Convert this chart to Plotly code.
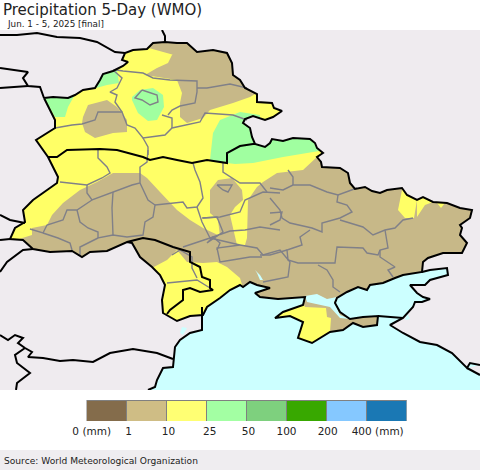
import plotly.graph_objects as go

# all map outlines are in map units (x right, y down)
NORTH_BORDER = [(44,98),(53,97),(68,98),(75,95),(83,90),(95,88),(100,80),(103,74),(113,71),(123,66),(128,62),
                (122,60),(125,53),(133,50),(147,49),(153,43),(165,42),(177,43),(187,43),(197,52),(213,50),
                (227,53),(232,63),(233,75),(240,80),(245,88),(257,94),(257,102),(272,103),(274,108),(282,111),
                (273,117),(265,120),(253,116),(245,119),(243,123),(250,128),(252,137),(255,144),(265,147),
                (270,143),(272,139),(283,141),(293,138),(310,139),(315,143),(317,148),(323,153),(317,157),
                (321,162),(322,167),(340,168),(348,173),(350,183),(355,189),(365,187),(372,191),(380,193),
                (387,190),(402,188),(407,195),(417,200),(423,197),(433,202),(447,203),(460,208),(472,210),
                (470,218),(460,225),(462,228),(460,235),(467,243),(462,253),(443,253),(428,258),(423,262),(422,272)]
COAST = [(403,275),(395,278),(383,283),(370,285),(367,290),(358,287),(347,292),(337,298),(335,303),(340,312),
         (350,319),(363,317),(378,316),(377,325),(363,327),(353,323),(343,330),(330,332),(320,338),(312,343),
         (298,338),(303,322),(290,316),(275,318),(283,312),(303,305),(305,297),(290,298),(278,299),(260,297),
         (255,293),(270,288),(257,285),(250,282),(243,287),(240,285),(230,290),(220,298),(207,307),(203,315)]
WEST_BORDER = [(190,316),(177,321),(163,313),(162,300),(165,285),(160,275),(152,267),(140,257),(132,243),(127,242),
               (115,247),(107,251),(90,252),(82,257),(72,251),(50,252),(33,249),(23,240),(10,239),(15,228),
               (25,222),(23,210),(33,200),(47,190),(57,183),(58,177),(48,157),(36,140),(55,128),(55,120)]
OUTLINE = NORTH_BORDER + COAST + WEST_BORDER + NORTH_BORDER[:1]

ROMANIA_COAST = [(202,317),(202,330),(190,333),(180,340),(175,347),(173,367),(163,368),(157,380),(155,387),(148,390)]
RUSSIA_COAST = [(422,272),(430,270),(447,268),(448,275),(430,280),(425,285),(410,285),(417,293),(423,297),(430,299),
                (422,302),(415,302),(413,307),(405,315),(403,318),(390,325),(403,333),(420,342),(437,345),(452,353),
                (467,368),(470,363),(480,365)]
RUSSIA_COAST_2 = [(467,368),(480,375)]
KERCH_SHORE = [(378,316),(390,317),(403,318)]

OTHER_BORDERS = [
    [(162,30),(165,36),(165,42)],
    [(0,35),(17,35),(37,33),(57,37),(80,38),(97,42),(115,52),(125,53)],
    [(0,68),(17,70),(28,72),(23,78),(28,86),(40,87),(44,98)],
    [(0,88),(28,86)],
    [(0,215),(10,220),(25,223)],
    [(0,240),(10,239)],
    [(0,272),(7,262),(23,250),(33,249)],
    [(0,335),(8,340),(15,335),(23,338),(18,343),(25,348),(32,352),(28,357),(43,358),(60,361),(73,360),(93,362),
     (110,353),(133,349),(157,353),(173,359)],
    [(25,348),(15,355),(17,363),(30,373),(17,383),(16,390)],
    [(48,157),(57,157),(67,150),(100,149),(117,150),(143,157),(150,160),(163,157),(177,160),(192,163),(207,160),
     (227,163),(227,153),(240,146),(253,144),(255,144)],
    [(127,242),(143,238),(155,240),(173,247),(190,252),(190,262),(200,267),(202,277),(210,280),(210,288),(213,290),
     (200,292),(190,288),(183,290),(183,300),(170,310),(167,314)],
    [(202,307),(202,317)],
]

REGION_LINES = [
    [(116,70),(123,71),(143,73),(153,78),(170,80),(197,81),(197,92),(195,103),(180,106),(172,110),(168,115)],
    [(197,88),(207,88),(230,84),(247,88)],
    [(142,90),(148,92),(157,95),(158,102),(150,105),(142,100),(135,98),(142,90)],
    [(113,70),(122,78),(117,88),(110,92),(117,95),(115,102),(122,112)],
    [(55,128),(72,125),(82,124),(95,120),(98,112),(122,112),(127,125),(135,128),(143,138),(165,135),(172,128),
     (200,122),(205,113),(233,115),(247,120)],
    [(162,115),(168,117),(172,118),(172,128)],
    [(143,138),(148,147),(148,155)],
    [(98,150),(98,158),(107,167),(110,173),(102,178),(87,185),(60,182)],
    [(87,185),(87,193),(92,200),(113,192),(132,185),(140,183),(140,167),(147,162),(148,150)],
    [(92,200),(77,210),(67,210),(63,220),(47,225),(43,233),(30,229)],
    [(77,210),(80,222),(88,228),(98,232),(98,238),(113,235),(127,237),(143,235),(145,222),(153,217),(155,205),
     (148,200),(140,183)],
    [(113,192),(112,208),(113,235)],
    [(43,233),(58,238),(70,243),(72,250)],
    [(98,238),(80,247),(80,255)],
    [(155,205),(183,202),(187,208),(197,207),(203,198),(200,182),(195,170),(193,163)],
    [(197,207),(202,222),(210,238),(183,247)],
    [(202,218),(220,217),(240,212),(245,200),(263,192),(280,193)],
    [(223,163),(223,172),(240,183),(260,183),(267,192)],
    [(210,238),(230,231),(245,230),(260,227),(280,230)],
    [(210,238),(240,245),(217,248),(218,253),(220,262),(232,260),(250,257),(262,257)],
    [(240,245),(257,248),(263,255),(280,250),(290,262),(288,277),(273,280),(263,282)],
    [(217,185),(232,185),(228,192),(223,190),(217,185)],
    [(270,188),(283,190),(293,185),(310,185),(327,192),(338,195),(357,188)],
    [(288,170),(293,177),(293,185)],
    [(338,195),(337,202),(347,205),(352,212),(340,218),(322,223),(322,232),(312,228),(290,223),(282,218),(280,210),(270,198)],
    [(340,220),(363,227),(373,235),(385,230),(395,228),(403,220),(413,218)],
    [(385,230),(388,248),(380,250),(378,255),(367,253),(363,248),(337,247),(335,263),(320,263),(298,263),(288,260),
     (287,250),(293,248),(302,245),(300,237),(310,230)],
    [(287,250),(270,255),(260,255)],
    [(318,265),(327,270),(333,280),(333,287),(340,292)],
    [(380,250),(380,257),(395,267),(388,270),(393,277)],
    [(270,213),(282,212),(280,220),(270,225)],
    [(167,283),(197,280),(210,288)],
    [(172,255),(180,250),(192,257),(192,268),(197,278)],
    [(203,218),(217,217),(223,232),(207,243),(213,237),(220,243),(217,250)],
]

YELLOW_AREAS = [
    [(30,60),(120,40),(300,90),(335,130),(335,150),(317,157),(303,170),(277,173),(263,182),(257,187),(248,200),
     (247,238),(245,245),(237,245),(220,236),(203,228),(190,220),(177,210),(160,192),(147,178),(140,173),(113,173),
     (97,182),(80,190),(63,203),(52,215),(47,225),(32,228),(32,235),(17,240),(0,245),(0,140)],
    [(152,268),(167,260),(177,250),(187,262),(203,263),(217,262),(227,267),(240,278),(245,295),(200,330),(150,330),(145,280)],
    [(305,307),(326,308),(327,317),(331,318),(330,332),(320,345),(297,345),(270,320),(273,313),(303,303)],
    [(403,185),(398,210),(405,218),(414,218),(417,200),(408,188)],
    [(417,217),(425,205),(433,202),(425,193),(417,200)],
    [(437,203),(445,203),(441,208)],
]
TAN_PATCHES = [
    [(145,75),(157,68),(168,63),(172,55),(180,47),(190,35),(270,70),(262,90),(250,97),(233,103),(210,110),(203,118),
     (187,123),(180,117),(180,103),(182,93),(177,80)],
    [(83,117),(88,105),(107,100),(117,107),(127,120),(127,132),(113,133),(95,138),(85,132),(82,123)],
    [(210,190),(218,180),(232,178),(242,190),(243,200),(235,207),(230,215),(234,232),(237,245),(225,248),(220,236),
     (218,220),(210,213),(210,203)],
]
GREEN_AREAS = [
    [(44,90),(78,90),(73,98),(68,107),(65,117),(55,117),(47,103),(40,98)],
    [(100,70),(117,70),(119,83),(107,85),(96,88)],
    [(132,97),(140,90),(153,88),(163,95),(164,107),(157,120),(148,121),(138,113),(132,100)],
    [(210,160),(213,133),(220,120),(240,112),(260,115),(260,130),(335,130),(325,150),(283,157),(253,163),(235,164),(227,163)],
]
SHALLOWS = [
    [(305,296),(317,294),(327,299),(337,297),(334,302),(340,315),(350,319),(340,318),(330,307),(307,302)],
    [(255,270),(260,275),(263,280),(260,280),(257,273)],
    [(407,313),(410,319),(405,320)],
    [(182,327),(187,328),(183,335),(180,333)],
]

LEGEND_COLORS = ["#846C4B", "#CFBD85", "#FFFF73", "#A3FFA3", "#7ED07E", "#38A800", "#85C8FF", "#1A78B4"]
LEGEND_LABELS = ["0 (mm)", "1", "10", "25", "50", "100", "200", "400 (mm)"]
LEGEND_LABEL_POS = [0.13, 1.05, 2.05, 3.08, 4.05, 5.0, 6.03, 7.28]

TAN = "#C7B888"
YELLOW = "#FFFF66"
GREEN = "#A0FFA0"
SEA = "#CCFFFF"
LAND = "#EFEBEF"
FONT = "DejaVu Sans"


def xs(points):
    return [p[0] for p in points]


def ys(points):
    return [p[1] for p in points]


def add_fill(fig, points, color):
    fig.add_trace(go.Scatter(x=xs(points), y=ys(points), mode="lines", fill="toself", fillcolor=color,
                             line=dict(width=0, color=color), hoverinfo="skip", showlegend=False,
                             xaxis="x", yaxis="y"))


def add_line(fig, points, color, width):
    fig.add_trace(go.Scatter(x=xs(points), y=ys(points), mode="lines", line=dict(color=color, width=width),
                             hoverinfo="skip", showlegend=False, xaxis="x", yaxis="y"))


fig = go.Figure()

add_fill(fig, OUTLINE, TAN)
for area in YELLOW_AREAS[:4]:
    add_fill(fig, area, YELLOW)
for patch in TAN_PATCHES:
    add_fill(fig, patch, TAN)
for area in YELLOW_AREAS[4:]:
    add_fill(fig, area, YELLOW)
for area in GREEN_AREAS:
    add_fill(fig, area, GREEN)

# everything outside the countries: frame, then in along the outline and back out again
frame = [(0,30),(480,30),(480,390),(0,390),(0,30)]
add_fill(fig, frame + [OUTLINE[0]] + OUTLINE[::-1] + [(0,30)], LAND)

sea = COAST + ROMANIA_COAST + [(480,390),(480,375)] + RUSSIA_COAST_2[::-1] + RUSSIA_COAST[::-1]
add_fill(fig, sea, SEA)
for shallow in SHALLOWS:
    add_fill(fig, shallow, SEA)

for line in REGION_LINES:
    add_line(fig, line, "#808088", 1.4)
for line in OTHER_BORDERS:
    add_line(fig, line, "black", 2)
add_line(fig, OUTLINE, "black", 2)
add_line(fig, RUSSIA_COAST, "black", 2)
add_line(fig, RUSSIA_COAST_2, "black", 2)
add_line(fig, KERCH_SHORE, "black", 2)
add_line(fig, ROMANIA_COAST, "black", 2)

# colour key as one stacked bar
for color in LEGEND_COLORS:
    fig.add_trace(go.Bar(x=[1], y=[0], orientation="h", marker=dict(color=color, line=dict(color="#808080", width=1)),
                         width=1, hoverinfo="skip", showlegend=False, xaxis="x2", yaxis="y2"))

W, H = 480, 470
fig.update_layout(
    width=W, height=H, margin=dict(l=0, r=0, t=0, b=0), autosize=False,
    paper_bgcolor="white", plot_bgcolor=LAND, barmode="stack",
    font=dict(family=FONT, color="#222222", size=10),
    xaxis=dict(domain=[0, 1], range=[0, 480], visible=False, fixedrange=True, automargin=False),
    yaxis=dict(domain=[(H - 390) / H, (H - 30) / H], range=[390, 30], visible=False, fixedrange=True, automargin=False),
    xaxis2=dict(domain=[86.5 / W, 406.5 / W], range=[0, 8], anchor="y2", showgrid=False, zeroline=False,
                tickmode="array", tickvals=LEGEND_LABEL_POS, ticktext=LEGEND_LABELS, ticks="", ticklen=0,
                ticklabelstandoff=2, tickfont=dict(family=FONT, size=10.5, color="#222222"), fixedrange=True,
                automargin=False),
    yaxis2=dict(domain=[(H - 421) / H, (H - 400) / H], range=[-0.5, 0.5], anchor="x2", visible=False, fixedrange=True,
                automargin=False),
    shapes=[dict(type="rect", xref="paper", yref="paper", x0=0, x1=1, y0=0, y1=20 / H, fillcolor="#EFEDF0",
                 line=dict(width=0), layer="below")],
    annotations=[
        dict(text="Precipitation 5-Day (WMO)", xref="paper", yref="paper", x=1 / W, y=1 + 1 / H, xanchor="left",
             yanchor="top", showarrow=False, font=dict(family=FONT, size=15, color="#222222")),
        dict(text="Jun. 1 - 5, 2025 [final]", xref="paper", yref="paper", x=5 / W, y=(H - 17) / H, xanchor="left",
             yanchor="top", showarrow=False, font=dict(family=FONT, size=8.8, color="#222222")),
        dict(text="Source: World Meteorological Organization", xref="paper", yref="paper", x=2 / W, y=9 / H,
             xanchor="left", yanchor="middle", showarrow=False, font=dict(family=FONT, size=9.1, color="#222222")),
    ],
)

# the default page margin would push the 480x470 figure out of the window
fig.write_html("out.html", config={"displayModeBar": False}, post_script="document.body.style.margin='0';")
